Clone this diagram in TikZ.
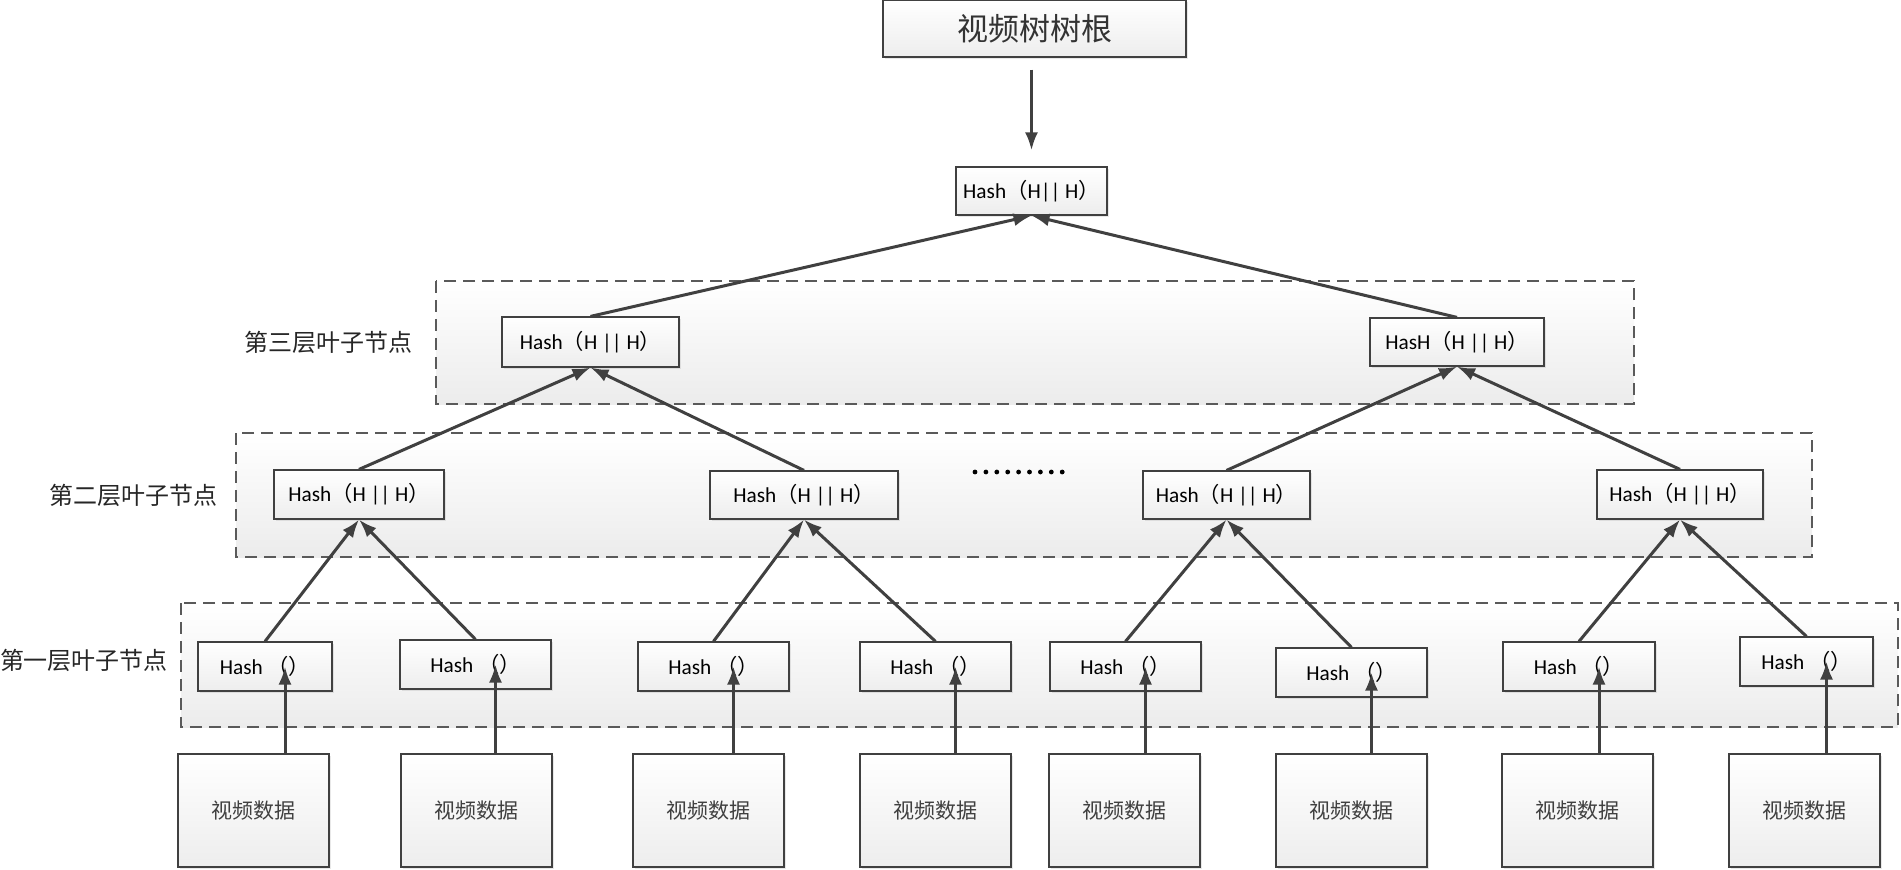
\documentclass[tikz,border=0pt]{standalone}
\usepackage{fontspec}
\setmainfont{Carlito}
\newfontfamily\cjk{Noto Sans CJK SC}
\usetikzlibrary{arrows.meta,calc,shadows}

\definecolor{linegray}{HTML}{404040}
\definecolor{dashgray}{HTML}{5A5A5A}

\newcommand{\hhash}{Hash{\cjk （}H || H{\cjk ）}}
\newcommand{\hleaf}{Hash {\cjk （）}}

\tikzset{
	boxbase/.style={draw=linegray,line width=1.2pt,top color=white,bottom color=gray!14,inner sep=0pt,
		drop shadow={shadow xshift=2pt,shadow yshift=-2pt,opacity=0.18}},
	hashbox/.style={boxbase,minimum width=#1,minimum height=49,font=\fontsize{21.3}{25}\selectfont},
	databox/.style={boxbase,minimum width=151,minimum height=113,text=linegray,font=\cjk\fontsize{21}{25}\selectfont},
	layerbox/.style={draw=dashgray,line width=1.2pt,dash pattern=on 12pt off 7pt,top color=white,bottom color=gray!15},
	layerlabel/.style={font=\cjk\fontsize{24}{28}\selectfont,text=black!85},
	arr/.style={draw=linegray,line width=3pt,-{Latex[length=18pt,width=13pt]}}
}

\begin{document}
\begin{tikzpicture}[x=1pt,y=-1pt]
	\useasboundingbox (0,0) rectangle (1901,870);

	%---------------------
	% layers
	%---------------------
	\draw[layerbox] (436,281) rectangle (1634,404);
	\draw[layerbox] (236,433) rectangle (1812,557);
	\draw[layerbox] (181,603) rectangle (1898,727);

	\node[layerlabel] (lab3) at (328.5,342) {第三层叶子节点};
	\node[layerlabel] (lab2) at (133,495) {第二层叶子节点};
	\node[layerlabel] (lab1) at (84,660) {第一层叶子节点};

	% root
	\node[boxbase,minimum width=303,minimum height=57,text=black!80,font=\cjk\fontsize{31}{36}\selectfont] (root) at (1034.5,28.5) {视频树树根};
	\node[hashbox=151,minimum height=48] (top) at (1031.5,191) {Hash{\cjk （}H|| H{\cjk ）}};

	% level 3
	\node[hashbox=177,minimum height=50] (t1) at (590.5,342) {\hhash};
	\node[hashbox=174,minimum height=48] (t2) at (1457,342) {HasH{\cjk （}H || H{\cjk ）}};

	% level 2
	\node[hashbox=170] (s1) at (359,494.5) {\hhash};
	\node[hashbox=188,minimum height=48] (s2) at (804,495) {\hhash};
	\node[hashbox=167,minimum height=48] (s3) at (1226.5,495) {\hhash};
	\node[hashbox=166] (s4) at (1680,494.5) {\hhash};
	\foreach \i in {0,...,8}
		\fill (975+\i*10.9,472) circle (2.4);

	% level 1
	\node[hashbox=134] (h1) at (265,666.5) {\hleaf};
	\node[hashbox=151] (h2) at (475.5,664.5) {\hleaf};
	\node[hashbox=151] (h3) at (713.5,666.5) {\hleaf};
	\node[hashbox=151] (h4) at (935.5,666.5) {\hleaf};
	\node[hashbox=151] (h5) at (1125.5,666.5) {\hleaf};
	\node[hashbox=151] (h6) at (1351.5,672.5) {\hleaf};
	\node[hashbox=152] (h7) at (1579,666.5) {\hleaf};
	\node[hashbox=133] (h8) at (1806.5,661.5) {\hleaf};

	% data
	\foreach \i/\x in {1/253.5,2/476.5,3/708.5,4/935.5,5/1124.5,6/1351.5,7/1577.5,8/1804.5}
		\node[databox] (d\i) at (\x,810.5) {视频数据};

	%---------------------
	% arrows
	%---------------------
	\draw[arr,shorten <=12pt,shorten >=16pt] (root.south -| top.north) -- (top.north);
	\draw[arr] (t1.north) -- (top.south);
	\draw[arr] (t2.north) -- (top.south);

	\draw[arr] (s1.north) -- (t1.south);
	\draw[arr] (s2.north) -- (t1.south);
	\draw[arr] (s3.north) -- (t2.south);
	\draw[arr] (s4.north) -- (t2.south);

	\draw[arr] (h1.north) -- (s1.south);
	\draw[arr] (h2.north) -- (s1.south);
	\draw[arr] (h3.north) -- (s2.south);
	\draw[arr] (h4.north) -- (s2.south);
	\draw[arr] (h5.north) -- (s3.south);
	\draw[arr] (h6.north) -- (s3.south);
	\draw[arr] (h7.north) -- (s4.south);
	\draw[arr] (h8.north) -- (s4.south);

	\foreach \i in {1,...,8} {
		\coordinate (a\i) at ($(h\i.center)+(20,0)$);
		\draw[arr] (a\i |- d\i.north) -- (a\i);
	}
\end{tikzpicture}
\end{document}
